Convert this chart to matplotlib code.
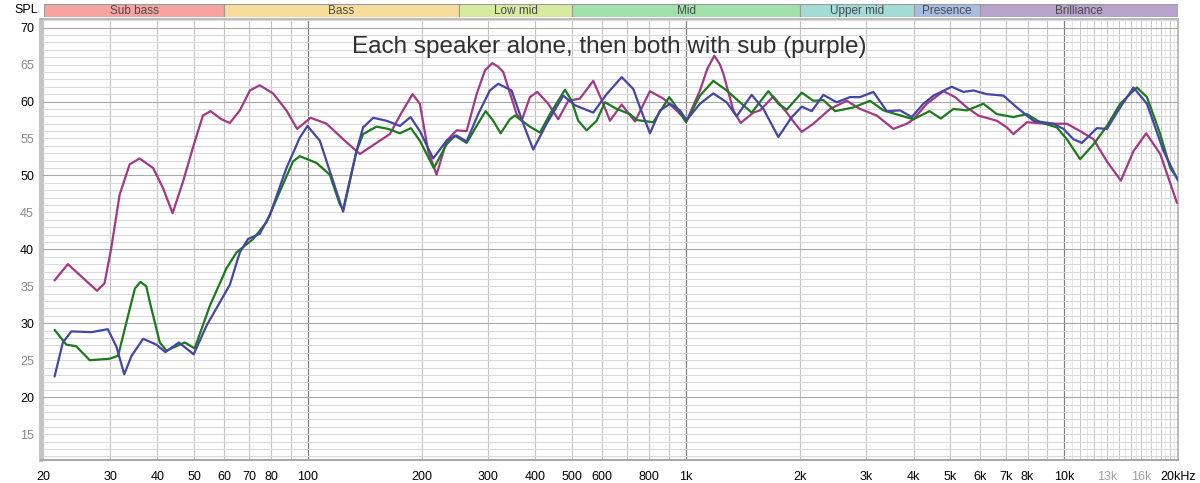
import matplotlib
matplotlib.use("Agg")
import matplotlib.pyplot as plt
from matplotlib.ticker import FixedLocator, NullFormatter

# measured curves (Hz, dB SPL)
purple_f = [21.4, 23.2, 27.7, 29.0, 30.2, 31.8, 33.8, 35.9, 39.0, 41.4, 43.9, 46.8, 49.7, 52.8,
            55.3, 59.1, 62.2, 66.1, 70.3, 74.6, 80.9, 87.8, 93.7, 101.7, 112.1, 124.0, 137.3,
            151.9, 164.8, 177.0, 189.2, 197.8, 208.1, 219.0, 232.8, 247.4, 263.0, 279.5, 294.0,
            307.3, 318.8, 328.7, 356.6, 367.6, 386.7, 404.3, 432.3, 459.4, 488.2, 524.3, 568.6,
            604.2, 629.4, 676.0, 733.1, 803.0, 870.9, 935.2, 1004, 1089, 1138, 1188, 1230, 1255,
            1334, 1395, 1507, 1570, 1702, 1847, 1943, 2024, 2172, 2404, 2662, 2886, 3196, 3536,
            3836, 3993, 4334, 4795, 5148, 5528, 5933, 6637, 7054, 7343, 7967, 9001, 10165, 11023,
            11955, 12973, 14125, 15254, 16482, 17950, 19870]
purple_db = [35.8, 38.0, 34.4, 35.4, 40.1, 47.4, 51.5, 52.3, 51.0, 48.3, 44.9, 49.2, 53.8, 58.1,
             58.7, 57.6, 57.1, 58.8, 61.5, 62.2, 61.1, 58.8, 56.3, 57.8, 57.0, 54.9, 52.9,
             54.4, 55.6, 58.5, 61.0, 59.7, 53.3, 50.1, 54.7, 56.1, 56.0, 61.0, 64.2,
             65.2, 64.7, 64.0, 58.3, 57.4, 60.6, 61.3, 59.7, 57.6, 60.1, 60.4, 62.8,
             59.7, 57.4, 59.6, 57.3, 61.4, 60.4, 59.0, 57.4, 61.5, 64.4, 66.2, 65.0, 63.8,
             58.8, 57.1, 58.5, 58.8, 60.7, 58.5, 57.0, 55.9, 57.0, 59.0, 60.1, 59.0, 58.1, 56.3,
             57.0, 57.6, 59.7, 61.4, 60.6, 59.2, 58.1, 57.4, 56.5, 55.6, 57.2, 57.0, 57.0, 56.0,
             54.9, 51.9, 49.3, 53.3, 55.7, 52.9, 46.3]

green_f = [21.4, 23.0, 24.4, 26.5, 29.9, 31.5, 33.8, 34.9, 36.1, 37.4, 38.2, 40.6, 42.3, 44.9,
           47.3, 50.2, 55.1, 60.9, 64.8, 71.7, 77.8, 84.3, 91.4, 95.2, 105.4, 114.3, 121.5,
           124.0, 134.5, 140.0, 151.9, 163.1, 175.2, 187.3, 197.8, 215.4, 232.8, 244.8, 263.0,
           279.5, 295.2, 309.2, 323.5, 342.2, 352.8, 386.7, 411.1, 436.8, 478.6, 498.5, 518.9,
           546.1, 580.4, 610.6, 655.8, 711.0, 740.6, 819.4, 903.2, 945.0, 1000, 1089, 1181, 1281,
           1418, 1492, 1651, 1755, 1847, 2024, 2172, 2308, 2479, 2771, 3068, 3327, 3757, 3993,
           4403, 4719, 5094, 5528, 6115, 6637, 7343, 7967, 8640, 9565, 10165, 11023, 11955,
           12973, 14065, 15573, 16554, 17950, 19077, 20000]
green_db = [29.1, 27.1, 26.9, 25.0, 25.2, 25.6, 31.9, 34.7, 35.6, 35.0, 32.9, 27.4, 26.3, 26.9,
            27.4, 26.6, 32.4, 37.4, 39.6, 41.4, 43.7, 47.8, 51.9, 52.6, 51.7, 50.1, 46.1,
            45.4, 53.3, 55.6, 56.6, 56.3, 55.7, 56.4, 54.7, 51.0, 54.2, 55.4, 54.4,
            56.7, 58.7, 57.4, 55.7, 57.6, 58.1, 56.6, 55.8, 58.3, 61.6, 60.1, 57.4,
            56.1, 57.4, 59.9, 59.0, 58.3, 57.5, 57.2, 60.6, 59.2, 57.2, 60.8, 62.8, 61.5,
            59.5, 58.5, 61.4, 59.7, 58.9, 61.2, 60.1, 60.2, 58.7, 59.2, 60.1, 58.8, 58.0, 57.6,
            58.7, 57.7, 59.0, 58.8, 59.7, 58.3, 57.9, 58.3, 57.2, 56.5, 54.9, 52.2, 54.2,
            56.7, 59.7, 61.9, 60.6, 55.6, 51.0, 49.5]

blue_f = [21.4, 22.5, 23.7, 26.8, 29.6, 31.2, 32.7, 34.2, 36.7, 39.8, 42.0, 45.6, 49.9, 54.0,
          62.2, 66.1, 69.5, 74.6, 79.3, 87.8, 95.2, 99.8, 107.6, 114.3, 124.0, 134.5, 140.0,
          148.9, 161.5, 175.2, 186.9, 197.8, 214.5, 232.8, 247.4, 263.0, 282.2, 303.0, 318.8,
          345.8, 371.2, 394.5, 428.1, 473.6, 508.6, 568.6, 617.0, 676.0, 725.5, 755.7, 803.0,
          853.6, 907.0, 964.0, 1004, 1089, 1181, 1281, 1361, 1492, 1602, 1755, 1904, 2024,
          2150, 2308, 2504, 2716, 2886, 3130, 3396, 3683, 3955, 4245, 4512, 5045, 5415, 5756,
          6244, 6909, 7498, 8296, 9370, 9957, 10582, 11140, 12205, 12973, 14065, 15254, 16554,
          18314, 20000]
blue_db = [22.8, 27.4, 28.9, 28.8, 29.2, 26.8, 23.1, 25.6, 27.9, 27.1, 26.1, 27.4, 25.8, 29.7,
           35.2, 39.6, 41.4, 42.1, 44.6, 51.0, 55.1, 56.7, 54.7, 50.6, 45.1, 53.3, 56.5,
           57.8, 57.4, 56.7, 57.9, 56.0, 52.3, 54.7, 55.4, 54.6, 58.3, 61.5, 62.4,
           61.5, 57.0, 53.5, 57.0, 60.8, 59.5, 58.5, 61.0, 63.3, 61.7, 59.2, 55.7,
           58.8, 59.7, 58.8, 57.5, 59.7, 61.1, 59.9, 58.0, 60.9, 59.0, 55.2, 57.9, 59.3,
           58.7, 60.9, 59.9, 60.6, 60.6, 61.3, 58.7, 58.8, 57.9, 59.7, 60.8, 62.0, 61.3, 61.5,
           61.0, 60.8, 59.2, 57.4, 57.0, 56.3, 54.9, 54.4, 56.4, 56.3, 59.2, 61.9, 59.7,
           53.3, 49.3]

bands = ["Sub bass", "Bass", "Low mid", "Mid", "Upper mid", "Presence", "Brilliance"]
band_edges = [20, 60, 250, 500, 2000, 4000, 6000, 20000]
band_colors = ["#f7a3a3", "#f7dc9c", "#d6eba0", "#a3e1ab", "#a3dcd7", "#a9bce2", "#b7a3cc"]

xtick_vals = [20, 30, 40, 50, 60, 70, 80, 100, 200, 300, 400, 500, 600, 800, 1000,
              2000, 3000, 4000, 5000, 6000, 7000, 8000, 10000, 13000, 16000, 20000]
xtick_text = ["20", "30", "40", "50", "60", "70", "80", "100", "200", "300", "400", "500",
              "600", "800", "1k", "2k", "3k", "4k", "5k", "6k", "7k", "8k", "10k", "13k",
              "16k", "20kHz"]
ytick_vals = [15, 20, 25, 30, 35, 40, 45, 50, 55, 60, 65, 70]

W, H = 1200, 483
plt.rcParams["font.family"] = ["Liberation Sans", "DejaVu Sans"]
fig = plt.figure(figsize=(W / 100, H / 100), dpi=100)
fig.patch.set_facecolor("white")

x0, x1 = 41, 1178
ax = fig.add_axes([x0 / W, 1 - 460 / H, (x1 - x0) / W, (460 - 19.5) / H])
ax.set_xscale("log")
ax.set_xlim(19.7, 20000)
ax.set_ylim(11.5, 71.1)

# grid
minor_x = [f * m for m in (10, 100, 1000) for f in range(2, 10) if f * m < 10000]
minor_x = [f for f in minor_x if f >= 20]
for f in minor_x:
    ax.axvline(f, color="#c4c4c4", lw=0.8, zorder=1)
for f in (100, 1000, 10000):
    ax.axvline(f, color="#808080", lw=0.9, zorder=1)
for k in range(21, 40):
    f = k * 500
    ax.axvline(f, color="#c8c8c8" if f % 1000 == 0 else "#e6e6e6", lw=0.7, zorder=1)
for v in range(12, 72):
    ax.axhline(v, color="#a8a8a8" if v % 10 == 0 else "#dadada", lw=0.8, zorder=1)

kw = dict(lw=1.6, solid_joinstyle="round", solid_capstyle="round")
ax.plot(purple_f, purple_db, color="#a33887", zorder=3, **kw)
ax.plot(green_f, green_db, color="#1c7a1c", zorder=4, **kw)
ax.plot(blue_f, blue_db, color="#4545a5", zorder=5, **kw)

ax.xaxis.set_major_locator(FixedLocator(xtick_vals))
ax.set_xticklabels(xtick_text)
ax.xaxis.set_minor_formatter(NullFormatter())
ax.set_yticks(ytick_vals)
ax.tick_params(axis="both", which="both", length=0, labelsize=9)
ax.tick_params(axis="x", pad=8)
ax.tick_params(axis="y", pad=5)
for lab, v in zip(ax.get_xticklabels(), xtick_vals):
    if v in (13000, 16000):
        lab.set_color("#a0a0a0")
for lab, v in zip(ax.get_yticklabels(), ytick_vals):
    lab.set_color("black" if v % 10 == 0 else "#8a8a8a")

for side in ("top", "right"):
    ax.spines[side].set_color("#b0b0b0")
    ax.spines[side].set_linewidth(1.2)
ax.spines["left"].set_color("#c4c4c4")
ax.spines["left"].set_linewidth(3)
ax.spines["bottom"].set_color("#a8a8a8")
ax.spines["bottom"].set_linewidth(1.5)

ax.text(0.50, 0.962, "Each speaker alone, then both with sub (purple)", transform=ax.transAxes,
        ha="center", va="top", fontsize=17.5, color="#303030", zorder=6)

# band bar
bx = fig.add_axes([44 / W, 1 - 17 / H, (x1 - 44) / W, 13 / H])
bx.set_xscale("log")
bx.set_xlim(20, 20000)
bx.set_ylim(0, 1)
bx.axis("off")
for name, lo, hi, c in zip(bands, band_edges[:-1], band_edges[1:], band_colors):
    bx.axvspan(lo, hi, facecolor=c, edgecolor="#9a9a9a", lw=0.8)
    bx.text((lo * hi) ** 0.5, 0.45, name, ha="center", va="center", fontsize=8.5, color="#4a4a4a")
fig.text(38 / W, 1 - 10 / H, "SPL", ha="right", va="center", fontsize=9)

fig.savefig("out.png", dpi=100, facecolor="white")
